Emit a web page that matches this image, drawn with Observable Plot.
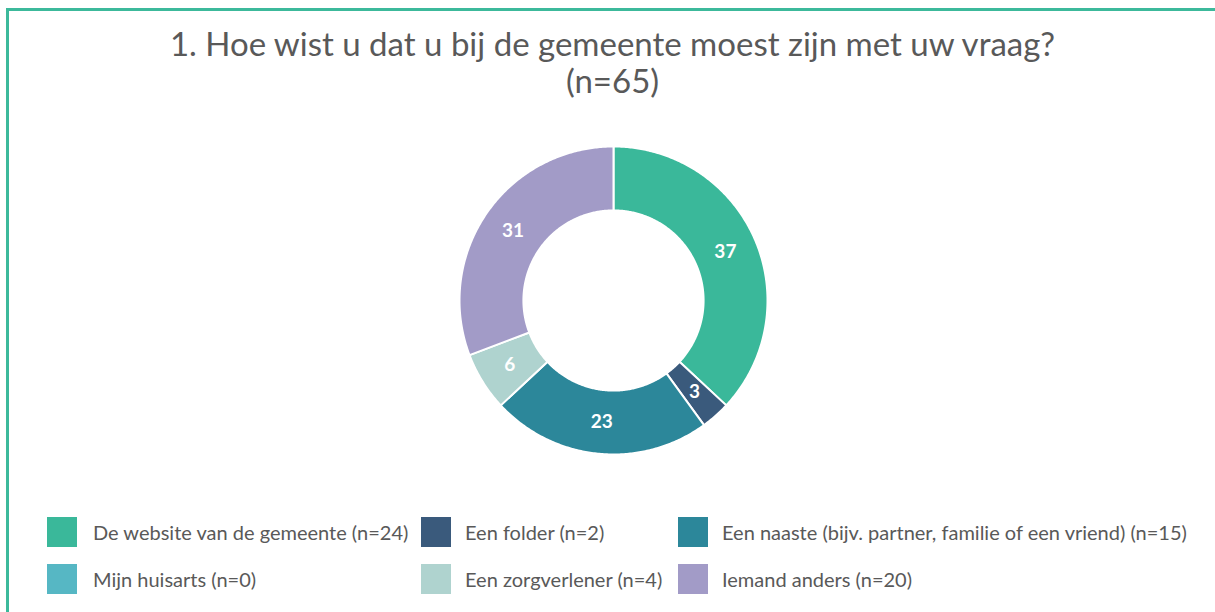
<!DOCTYPE html>
<html>
<head>
<meta charset="utf-8">
<script src="https://cdn.jsdelivr.net/npm/d3@7"></script>
<script src="https://cdn.jsdelivr.net/npm/@observablehq/plot@0.6"></script>
<style>
  html, body { margin: 0; padding: 0; background: #fff; }
  #page { position: relative; width: 1215px; height: 612px; overflow: hidden; font-family: Lato, "Open Sans", sans-serif; color: #595959; }
  #frame { position: absolute; left: 6px; top: 8px; width: 1300px; height: 700px; border-top: 3px solid #3CB99B; border-left: 3px solid #3CB99B; box-sizing: border-box; }
  #title { position: absolute; left: 0; width: 1225px; top: 25px; text-align: center; font-size: 33px; line-height: 37px; color: #595959; }
  #chart { position: absolute; left: 0; top: 0; }
  .sw { position: absolute; width: 30px; height: 30px; }
  .lt { position: absolute; font-size: 20px; line-height: 30px; white-space: nowrap; color: #595959; }
</style>
</head>
<body>
<div id="page">
  <div id="frame"></div>
  <div id="chart"></div>
  <div id="title"></div>
  <div id="legend"></div>
</div>
<script>
const titleLines = ["1. Hoe wist u dat u bij de gemeente moest zijn met uw vraag?", "(n=65)"];
const categories = ["De website van de gemeente", "Een folder", "Een naaste (bijv. partner, familie of een vriend)", "Mijn huisarts", "Een zorgverlener", "Iemand anders"];
const counts = [24, 2, 15, 0, 4, 20];
const percentLabels = [37, 3, 23, 0, 6, 31];
const colors = ["#3AB89A", "#3A5A7C", "#2C879A", "#56B7C4", "#AFD3CF", "#A29BC7"];

document.getElementById("title").innerHTML = titleLines.map(t => `<div>${t}</div>`).join("");

// donut geometry via d3.pie (angles from counts)
const pie = d3.pie().sort(null).value(d => d.count);
const table = categories.map((c, i) => ({category: c, count: counts[i], pct: percentLabels[i]}));
const arcs = pie(table);
const rOuter = 1, rInner = 0.585;
const rows = [];
const labels = [];
arcs.forEach(a => {
  if (a.endAngle - a.startAngle <= 0) return;
  const n = Math.max(4, Math.ceil((a.endAngle - a.startAngle) / 0.01));
  const pts = [];
  for (let k = 0; k <= n; k++) {
    const t = a.startAngle + (a.endAngle - a.startAngle) * k / n;
    pts.push({x: rOuter * Math.sin(t), y: rOuter * Math.cos(t)});
  }
  for (let k = n; k >= 0; k--) {
    const t = a.startAngle + (a.endAngle - a.startAngle) * k / n;
    pts.push({x: rInner * Math.sin(t), y: rInner * Math.cos(t)});
  }
  pts.push(pts[0]);
  pts.forEach(p => rows.push({...p, category: a.data.category}));
  const m = (a.startAngle + a.endAngle) / 2, rm = (rOuter + rInner) / 2;
  labels.push({x: rm * Math.sin(m), y: rm * Math.cos(m), text: String(a.data.pct)});
});

const cx = 613, cy = 300, R = 154;
const plot = Plot.plot({
  width: 1215, height: 612,
  margin: 0,
  x: {domain: [-1, 1], range: [cx - R, cx + R], axis: null},
  y: {domain: [-1, 1], range: [cy + R, cy - R], axis: null},
  color: {domain: categories, range: colors},
  marks: [
    Plot.line(rows, {x: "x", y: "y", z: "category", fill: "category", stroke: "white", strokeWidth: 2, curve: "linear"}),
    Plot.text(labels, {x: "x", y: "y", text: "text", fill: "white", fontSize: 19, fontWeight: "bold", fontFamily: "Lato, sans-serif"})
  ]
});
plot.style.background = "transparent";
document.getElementById("chart").appendChild(plot);

// legend
const legendPos = [
  {sx: 47, sy: 517, tx: 93}, {sx: 421, sy: 517, tx: 465}, {sx: 678, sy: 517, tx: 722},
  {sx: 47, sy: 564, tx: 93}, {sx: 421, sy: 564, tx: 465}, {sx: 678, sy: 564, tx: 722}
];
const lg = document.getElementById("legend");
categories.forEach((c, i) => {
  const p = legendPos[i];
  const s = document.createElement("div");
  s.className = "sw"; s.style.left = p.sx + "px"; s.style.top = p.sy + "px"; s.style.background = colors[i];
  lg.appendChild(s);
  const t = document.createElement("div");
  t.className = "lt"; t.style.left = p.tx + "px"; t.style.top = (p.sy) + "px";
  t.textContent = `${c} (n=${counts[i]})`;
  lg.appendChild(t);
});
</script>
</body>
</html>
